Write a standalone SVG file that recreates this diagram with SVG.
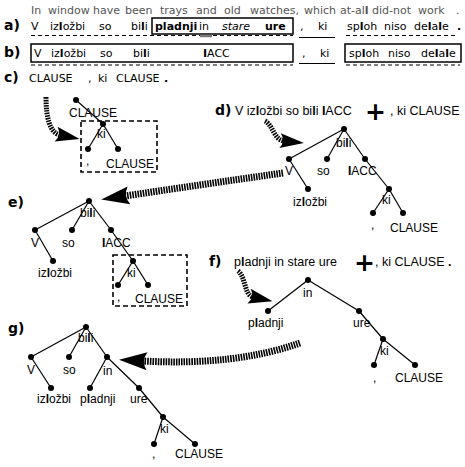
<svg xmlns="http://www.w3.org/2000/svg" width="465" height="467" viewBox="0 0 465 467">
<defs>
<style>
.t{font-family:"DejaVu Sans",sans-serif;font-size:11px;fill:#000}
.gr{fill:#555}
.hd{font-family:"DejaVu Sans",sans-serif;font-size:14px;font-weight:bold;fill:#000}
.plus{font-family:"DejaVu Sans",sans-serif;font-size:25px;font-weight:bold;fill:#000}
.lab{font-family:"Liberation Sans",Arial,sans-serif;font-size:12px;fill:#000}
.hl{font-family:"Liberation Sans",Arial,sans-serif;font-size:12.5px;fill:#000}
.b{font-weight:bold}
.edge{stroke:#000;stroke-width:1.2;fill:none}
.dot{fill:#000}
.box{fill:none;stroke:#000;stroke-width:1.5}
.dbox{fill:none;stroke:#000;stroke-width:1.6;stroke-dasharray:5 3}
.dash{stroke:#000;stroke-width:1.2;stroke-dasharray:4 3}
.ul{stroke:#000;stroke-width:1.2}
.hatchL{fill:none;stroke:#000;stroke-width:7;stroke-dasharray:1.6 1}
.hatchS{fill:none;stroke:#000;stroke-width:5;stroke-dasharray:1.6 1}
</style>
<marker id="ahL" markerUnits="userSpaceOnUse" viewBox="-2 -12 32 24" markerWidth="32" markerHeight="24" refX="3" refY="0" orient="auto">
<path d="M27,0 L-1,-9 Q5,0 -1,9 Z" fill="#000"/>
</marker>
<marker id="ahS" markerUnits="userSpaceOnUse" viewBox="-2 -10 28 20" markerWidth="28" markerHeight="20" refX="3" refY="0" orient="auto">
<path d="M23,0 L-1,-7.5 Q5,0 -1,7.5 Z" fill="#000"/>
</marker>
</defs>
<rect width="465" height="467" fill="#fff"/>

<g id="gloss">
<text class="t gr" y="14"><tspan x="31">In</tspan><tspan x="48">window</tspan><tspan x="93">have</tspan><tspan x="125">been</tspan><tspan x="160">trays</tspan><tspan x="196">and</tspan><tspan x="224">old</tspan><tspan x="250">watches,</tspan><tspan x="304">which</tspan><tspan x="340">at-al<tspan class="b">l</tspan></tspan><tspan x="372">did-not</tspan><tspan x="418">work</tspan><tspan x="456">.</tspan></text>
</g>

<g id="row-a">
<text class="hd" x="4" y="30">a)</text>
<text class="t" y="30"><tspan x="31">V</tspan><tspan x="50">iz<tspan class="b">l</tspan>ožbi</tspan><tspan x="99">so</tspan><tspan x="131">bi<tspan class="b">l</tspan>i</tspan></text>
<rect class="box" x="152" y="18" width="141" height="16"/>
<text class="t" y="30"><tspan x="155" class="b">pladnji</tspan><tspan x="199">in</tspan><tspan x="222" font-style="italic">stare</tspan><tspan x="265" class="b">ure</tspan></text>
<text class="t" y="30"><tspan x="300">,</tspan><tspan x="318">ki</tspan><tspan x="347">sp<tspan class="b">l</tspan>oh</tspan><tspan x="384">niso</tspan><tspan x="414">de<tspan class="b">l</tspan>a<tspan class="b">l</tspan>e</tspan><tspan x="457" class="b">.</tspan></text>
<line class="dash" x1="31" y1="35.5" x2="293" y2="35.5"/>
<line x1="200" y1="36" x2="212" y2="36" stroke="#777" stroke-width="2.5"/>
<line class="ul" x1="299" y1="37.5" x2="335" y2="37.5"/>
<line class="dash" x1="346" y1="35.5" x2="455" y2="35.5"/>
</g>

<g id="row-b">
<text class="hd" x="4" y="57">b)</text>
<rect class="box" x="31" y="44" width="262" height="18"/>
<text class="t" y="57"><tspan x="34">V</tspan><tspan x="51">iz<tspan class="b">l</tspan>ožbi</tspan><tspan x="100">so</tspan><tspan x="133">bi<tspan class="b">l</tspan>i</tspan><tspan x="203"><tspan class="b">I</tspan>ACC</tspan></text>
<text class="t" y="57"><tspan x="302">,</tspan><tspan x="320">ki</tspan></text>
<line class="ul" x1="299" y1="63.5" x2="335" y2="63.5"/>
<rect class="box" x="345" y="44" width="116" height="18"/>
<text class="t" y="57"><tspan x="349">sp<tspan class="b">l</tspan>oh</tspan><tspan x="388">niso</tspan><tspan x="421">de<tspan class="b">l</tspan>a<tspan class="b">l</tspan>e</tspan></text>
<line class="dash" x1="31" y1="65" x2="293" y2="65"/>
<line class="dash" x1="346" y1="65" x2="460" y2="65"/>
</g>

<g id="row-c">
<text class="hd" x="4" y="82">c)</text>
<text class="t" y="82" font-size="12"><tspan x="29">CLAUSE</tspan><tspan x="88">,</tspan><tspan x="98">ki</tspan><tspan x="116">CLAUSE</tspan><tspan x="164" class="b">.</tspan></text>
</g>

<g id="tree-c">
<line class="edge" x1="76" y1="100" x2="103" y2="124"/>
<line class="edge" x1="103" y1="124" x2="88" y2="149"/>
<line class="edge" x1="103" y1="124" x2="118" y2="149"/>
<circle class="dot" cx="76" cy="100" r="3"/>
<circle class="dot" cx="103" cy="124" r="3"/>
<circle class="dot" cx="88" cy="149" r="3"/>
<circle class="dot" cx="118" cy="149" r="3"/>
<text class="lab" x="69" y="117">CLAUSE</text>
<text class="lab" x="97" y="138">ki</text>
<text class="lab" x="86" y="165">,</text>
<text class="lab" x="106" y="168">CLAUSE</text>
<rect class="dbox" x="81" y="121" width="76" height="51"/>
</g>

<g id="head-d">
<text class="hd" x="215" y="115">d)</text>
<text class="hl" x="235" y="115">V iz<tspan class="b">l</tspan>ožbi so bi<tspan class="b">l</tspan>i <tspan class="b">I</tspan>ACC</text>
<text class="plus" x="365" y="120">+</text>
<text class="hl" x="390" y="115">, ki CLAUSE</text>
</g>

<g id="tree-d">
<line class="edge" x1="344" y1="129" x2="289" y2="159"/>
<line class="edge" x1="344" y1="129" x2="327" y2="159"/>
<line class="edge" x1="344" y1="129" x2="365" y2="159"/>
<line class="edge" x1="289" y1="159" x2="308" y2="189"/>
<line class="edge" x1="365" y1="159" x2="389" y2="189"/>
<line class="edge" x1="389" y1="189" x2="373" y2="213"/>
<line class="edge" x1="389" y1="189" x2="403" y2="213"/>
<g class="dot"><circle cx="344" cy="129" r="3"/><circle cx="289" cy="159" r="3"/><circle cx="327" cy="159" r="3"/><circle cx="365" cy="159" r="3"/><circle cx="308" cy="189" r="3"/><circle cx="389" cy="189" r="3"/><circle cx="373" cy="213" r="3"/><circle cx="403" cy="213" r="3"/></g>
<text class="lab" x="336" y="147">bi<tspan class="b">l</tspan>i</text>
<text class="lab" x="285" y="175">V</text>
<text class="lab" x="317" y="175">so</text>
<text class="lab" x="348" y="175"><tspan class="b">I</tspan>ACC</text>
<text class="lab" x="293" y="206">iz<tspan class="b">l</tspan>ožbi</text>
<text class="lab" x="382" y="204">ki</text>
<text class="lab" x="371" y="229">,</text>
<text class="lab" x="390" y="232">CLAUSE</text>
</g>

<g id="head-e">
<text class="hd" x="8" y="207">e)</text>
</g>

<g id="tree-e">
<line class="edge" x1="89" y1="201" x2="35" y2="230"/>
<line class="edge" x1="89" y1="201" x2="72" y2="230"/>
<line class="edge" x1="89" y1="201" x2="111" y2="230"/>
<line class="edge" x1="35" y1="230" x2="53" y2="261"/>
<line class="edge" x1="111" y1="230" x2="133" y2="261"/>
<line class="edge" x1="133" y1="261" x2="118" y2="285"/>
<line class="edge" x1="133" y1="261" x2="148" y2="285"/>
<g class="dot"><circle cx="89" cy="201" r="3"/><circle cx="35" cy="230" r="3"/><circle cx="72" cy="230" r="3"/><circle cx="111" cy="230" r="3"/><circle cx="53" cy="261" r="3"/><circle cx="133" cy="261" r="3"/><circle cx="118" cy="285" r="3"/><circle cx="148" cy="285" r="3"/></g>
<text class="lab" x="80" y="217">bi<tspan class="b">l</tspan>i</text>
<text class="lab" x="31" y="247">V</text>
<text class="lab" x="62" y="247">so</text>
<text class="lab" x="102" y="247"><tspan class="b">I</tspan>ACC</text>
<text class="lab" x="38" y="277">iz<tspan class="b">l</tspan>ožbi</text>
<text class="lab" x="127" y="277">ki</text>
<text class="lab" x="117" y="301">,</text>
<text class="lab" x="135" y="303">CLAUSE</text>
<rect class="dbox" x="113" y="255" width="74" height="51"/>
</g>

<g id="head-f">
<text class="hd" x="209" y="266">f)</text>
<text class="hl" x="234" y="266">p<tspan class="b">l</tspan>adnji in stare ure</text>
<text class="plus" x="354" y="271">+</text>
<text class="hl" x="375" y="266">, ki CLAUSE <tspan class="b">.</tspan></text>
</g>

<g id="tree-f">
<line class="edge" x1="308" y1="280" x2="268" y2="311"/>
<line class="edge" x1="308" y1="280" x2="359" y2="311"/>
<line class="edge" x1="359" y1="311" x2="383" y2="339"/>
<line class="edge" x1="383" y1="339" x2="374" y2="365"/>
<line class="edge" x1="383" y1="339" x2="415" y2="365"/>
<g class="dot"><circle cx="308" cy="280" r="3"/><circle cx="268" cy="311" r="3"/><circle cx="359" cy="311" r="3"/><circle cx="383" cy="339" r="3"/><circle cx="374" cy="365" r="3"/><circle cx="415" cy="365" r="3"/></g>
<text class="lab" x="303" y="297">in</text>
<text class="lab" x="248" y="327">p<tspan class="b">l</tspan>adnji</text>
<text class="lab" x="353" y="327">ure</text>
<text class="lab" x="380" y="355">ki</text>
<text class="lab" x="373" y="382">,</text>
<text class="lab" x="395" y="382">CLAUSE</text>
</g>

<g id="head-g">
<text class="hd" x="8" y="333">g)</text>
</g>

<g id="tree-g">
<line class="edge" x1="86" y1="327" x2="31" y2="357"/>
<line class="edge" x1="86" y1="327" x2="69" y2="357"/>
<line class="edge" x1="86" y1="327" x2="107" y2="357"/>
<line class="edge" x1="31" y1="357" x2="51" y2="388"/>
<line class="edge" x1="107" y1="357" x2="90" y2="388"/>
<line class="edge" x1="107" y1="357" x2="139" y2="388"/>
<line class="edge" x1="139" y1="388" x2="163" y2="417"/>
<line class="edge" x1="163" y1="417" x2="154" y2="444"/>
<line class="edge" x1="163" y1="417" x2="195" y2="444"/>
<g class="dot"><circle cx="86" cy="327" r="3"/><circle cx="31" cy="357" r="3"/><circle cx="69" cy="357" r="3"/><circle cx="107" cy="357" r="3"/><circle cx="51" cy="388" r="3"/><circle cx="90" cy="388" r="3"/><circle cx="139" cy="388" r="3"/><circle cx="163" cy="417" r="3"/><circle cx="154" cy="444" r="3"/><circle cx="195" cy="444" r="3"/></g>
<text class="lab" x="78" y="342">bi<tspan class="b">l</tspan>i</text>
<text class="lab" x="27" y="374">V</text>
<text class="lab" x="63" y="374">so</text>
<text class="lab" x="103" y="375">in</text>
<text class="lab" x="37" y="403">iz<tspan class="b">l</tspan>ožbi</text>
<text class="lab" x="80" y="403">p<tspan class="b">l</tspan>adnji</text>
<text class="lab" x="130" y="403">ure</text>
<text class="lab" x="160" y="433">ki</text>
<text class="lab" x="152" y="458">,</text>
<text class="lab" x="175" y="458">CLAUSE</text>
</g>

<g id="connectors">
<path class="hatchS" d="M46,97 C46,118 50,133 60,135" marker-end="url(#ahS)"/>
<path class="hatchS" d="M265,121 C273,125 274,140 284,141" marker-end="url(#ahS)"/>
<path class="hatchS" d="M238,271 C246,277 244,295 253,297" marker-end="url(#ahS)"/>
<path class="hatchL" d="M283,173 Q205,184 125,196" marker-end="url(#ahL)"/>
<path class="hatchL" d="M300,343 Q235,366 143,361" marker-end="url(#ahL)"/>
</g>
</svg>
